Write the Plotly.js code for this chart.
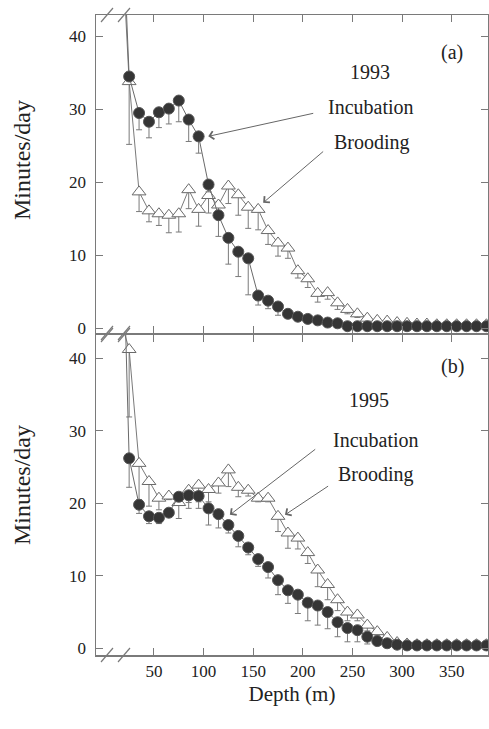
<!DOCTYPE html>
<html>
<head>
<meta charset="utf-8">
<script src="https://cdn.plot.ly/plotly-3.0.1.min.js"></script>
<style>html,body{margin:0;padding:0;background:#fff;}#chart{width:489px;height:729px;}</style>
</head>
<body>
<div id="chart"></div>
<script>
// Depth bins (m)
const depth = [15,25,35,45,55,65,75,85,95,105,115,125,135,145,155,165,175,185,195,205,215,225,235,245,255,265,275,285,295,305,315,325,335,345,355,365,375,385];

// (a) 1993
const incubation1993 = [67,34.5,29.5,28.3,29.6,30.1,31.2,28.6,26.3,19.7,15.5,12.4,10.5,9.6,4.5,3.8,3.0,2.0,1.6,1.3,1.1,0.8,0.7,0.3,0.3,0.3,0.3,0.3,0.3,0.3,0.3,0.3,0.3,0.3,0.3,0.3,0.3,0.3];
const incubation1993Err = [0,0,2.3,2.2,2.1,2.1,2.9,3.0,2.3,1.0,2.9,3.6,3.4,5.0,1.3,1.1,1.2,0.5,0.4,0.3,0.2,0.2,0.2,0,0,0,0,0,0,0,0,0,0,0,0,0,0,0];
const brooding1993 = [60,33.8,18.7,16.1,15.7,15.5,15.7,19.0,16.3,18.2,16.9,19.5,18.3,16.6,16.3,13.4,11.7,11.0,7.9,6.8,4.8,4.9,3.5,2.6,2.0,1.4,1.1,1.0,0.8,0.7,0.6,0.6,0.5,0.5,0.5,0.5,0.5,0.5];
const brooding1993Err = [0,8.6,2.7,1.5,1.6,2.4,2.5,2.6,2.3,2.4,1.5,2.4,2.8,2.9,2.8,1.9,1.8,1.4,1.0,1.2,1.2,0.9,0.9,0.6,0.5,0.3,0.2,0.2,0,0,0,0,0,0,0,0,0,0];

// (b) 1995
const incubation1995 = [76,26.2,19.8,18.2,18.0,18.7,20.9,21.1,21.0,19.3,18.5,17.0,15.5,13.9,12.3,11.2,9.4,8.0,7.4,6.3,5.9,5.0,3.6,2.8,2.5,1.6,1.0,0.7,0.5,0.4,0.4,0.4,0.4,0.4,0.4,0.4,0.4,0.4];
const incubation1995Err = [0,4.0,1.2,1.0,0.8,0.5,0,1.0,1.7,2.3,1.9,1.1,1.5,1.0,1.0,1.5,2.0,1.8,2.6,2.5,2.7,2.3,2.0,1.9,1.6,1.0,0.5,0.3,0,0,0,0,0,0,0,0,0,0];
const brooding1995 = [46,41.2,25.5,23.0,20.7,21.0,20.1,21.8,22.5,21.9,22.8,24.6,22.2,21.8,20.7,20.7,18.2,15.9,15.2,13.2,10.8,8.8,6.7,5.0,4.6,3.2,2.3,1.5,0.8,0.6,0.5,0.5,0.5,0.5,0.5,0.5,0.5,0.5];
const brooding1995Err = [0,9.3,5.0,3.4,1.6,0.5,2.2,2.5,2.3,1.7,1.4,2.3,1.3,0.8,0.5,0.5,2.1,2.1,1.5,1.5,2.3,2.1,1.5,1.2,0.8,0.8,0.5,0.3,0,0,0,0,0,0,0,0,0,0];

const xTicks = [50,100,150,200,250,300,350];
const yTicks = [0,10,20,30,40];

const FONT = '"Liberation Serif", "Times New Roman", Times, serif';
const LINE = '#7a7a7a';

function circles(y, err, xa, ya) {
  return {
    x: depth, y: y, xaxis: xa, yaxis: ya, type: 'scatter', mode: 'lines+markers', name: 'Incubation',
    line: {color: '#6a6a6a', width: 1},
    marker: {symbol: 'circle', size: 11, color: '#353535', line: {color: '#555', width: 1}},
    error_y: {type: 'data', symmetric: false, array: [], arrayminus: err, color: LINE, thickness: 1, width: 3}
  };
}
function triangles(y, err, xa, ya) {
  return {
    x: depth, y: y, xaxis: xa, yaxis: ya, type: 'scatter', mode: 'lines+markers', name: 'Brooding',
    line: {color: '#7a7a7a', width: 1, dash: 'solid'},
    marker: {symbol: 'triangle-up', size: 12, color: '#ffffff', line: {color: '#6a6a6a', width: 1}},
    error_y: {type: 'data', symmetric: false, array: [], arrayminus: err, color: LINE, thickness: 1, width: 3}
  };
}

const data = [
  triangles(brooding1993, brooding1993Err, 'x2', 'y2'),
  circles(incubation1993, incubation1993Err, 'x2', 'y2'),
  triangles(brooding1995, brooding1995Err, 'x', 'y'),
  circles(incubation1995, incubation1995Err, 'x', 'y')
];

const axCommon = {
  ticks: 'inside', ticklen: 7, tickwidth: 1, tickcolor: LINE,
  showline: true, linecolor: LINE, linewidth: 1.5, mirror: 'ticks',
  showgrid: false, zeroline: false,
  tickfont: {family: FONT, size: 17, color: '#222'}
};

// paper-coord helpers for the axis-break slashes (pixel based on margins)
const PL = 96, PW = 392, PB = 655, PH = 640;
function px(x){ return (x - PL) / PW; }
function py(y){ return (PB - y) / PH; }
const breakY = [15, 333, 335, 655];
const breakX = [107, 124];
const shapes = [];
breakY.forEach(function(yy){
  breakX.forEach(function(xx){
    shapes.push({type: 'line', xref: 'paper', yref: 'paper',
      x0: px(xx - 6), y0: py(yy + 7), x1: px(xx + 6), y1: py(yy - 7),
      line: {color: LINE, width: 1.2}});
  });
});

const labelFont = {family: FONT, size: 20, color: '#222'};
const titleFont = {family: FONT, size: 24, color: '#222'};
const annotations = [
  {xref: 'paper', yref: 'paper', x: px(22), y: py(160), xanchor: 'center', yanchor: 'middle', text: 'Minutes/day', textangle: -90, showarrow: false, font: titleFont},
  {xref: 'paper', yref: 'paper', x: px(22), y: py(485), xanchor: 'center', yanchor: 'middle', text: 'Minutes/day', textangle: -90, showarrow: false, font: titleFont},
  {xref: 'x2', yref: 'y2', x: 350, y: 37.8, text: '(a)', showarrow: false, font: labelFont},
  {xref: 'x2', yref: 'y2', x: 268, y: 35.1, text: '1993', showarrow: false, font: labelFont},
  {xref: 'x2', yref: 'y2', x: 269, y: 30.3, text: 'Incubation', showarrow: false, font: labelFont},
  {xref: 'x2', yref: 'y2', x: 270, y: 25.5, text: 'Brooding', showarrow: false, font: labelFont},
  {xref: 'x2', yref: 'y2', axref: 'x2', ayref: 'y2', x: 104.7, y: 26.3, ax: 212, ay: 29.5, text: '', showarrow: true, arrowhead: 4, arrowsize: 1.6, arrowwidth: 1, arrowcolor: '#666'},
  {xref: 'x2', yref: 'y2', axref: 'x2', ayref: 'y2', x: 160, y: 17.2, ax: 222, ay: 24.4, text: '', showarrow: true, arrowhead: 4, arrowsize: 1.6, arrowwidth: 1, arrowcolor: '#666'},
  {xref: 'x', yref: 'y', x: 351, y: 38.9, text: '(b)', showarrow: false, font: labelFont},
  {xref: 'x', yref: 'y', x: 267, y: 34.2, text: '1995', showarrow: false, font: labelFont},
  {xref: 'x', yref: 'y', x: 274, y: 28.7, text: 'Incubation', showarrow: false, font: labelFont},
  {xref: 'x', yref: 'y', x: 274, y: 23.9, text: 'Brooding', showarrow: false, font: labelFont},
  {xref: 'x', yref: 'y', axref: 'x', ayref: 'y', x: 126.5, y: 18.4, ax: 214, ay: 27.6, text: '', showarrow: true, arrowhead: 4, arrowsize: 1.6, arrowwidth: 1, arrowcolor: '#666'},
  {xref: 'x', yref: 'y', axref: 'x', ayref: 'y', x: 182, y: 18.4, ax: 227, ay: 22.5, text: '', showarrow: true, arrowhead: 4, arrowsize: 1.6, arrowwidth: 1, arrowcolor: '#666'}
];

const layout = {
  width: 489, height: 729,
  margin: {l: 96, r: 1, t: 15, b: 74, pad: 0},
  paper_bgcolor: '#ffffff', plot_bgcolor: '#ffffff',
  showlegend: false,
  font: {family: FONT, color: '#222'},
  xaxis: Object.assign({}, axCommon, {
    domain: [0, 1], anchor: 'y', range: [-8.4, 386.6], tickvals: xTicks,
    title: {text: 'Depth (m)', font: {family: FONT, size: 21, color: '#222'}, standoff: 6}
  }),
  xaxis2: Object.assign({}, axCommon, {
    domain: [0, 1], anchor: 'y2', matches: 'x', range: [-8.4, 386.6], tickvals: xTicks, showticklabels: false
  }),
  yaxis: Object.assign({}, axCommon, {
    domain: [0, 0.5], anchor: 'x', range: [-0.92, 43.2], tickvals: yTicks, ticklabelstandoff: 5
  }),
  yaxis2: Object.assign({}, axCommon, {
    domain: [0.503, 1], anchor: 'x2', range: [-0.64, 42.92], tickvals: yTicks, ticklabelstandoff: 5
  }),
  shapes: shapes,
  annotations: annotations
};

Plotly.newPlot('chart', data, layout, {staticPlot: true, displayModeBar: false});
</script>
</body>
</html>
